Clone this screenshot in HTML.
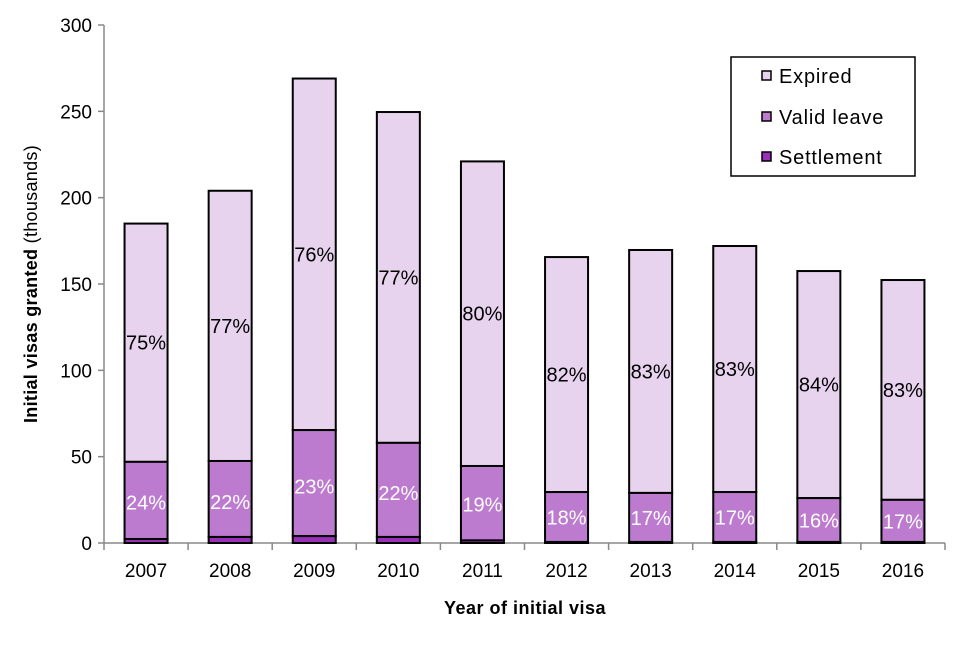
<!DOCTYPE html>
<html><head><meta charset="utf-8"><style>
body{margin:0;background:#fff;font-family:"Liberation Sans",Arial,sans-serif}
svg text{font-family:"Liberation Sans",Arial,sans-serif}
</style></head><body>
<svg id="c" width="960" height="640" xmlns="http://www.w3.org/2000/svg"></svg>
<script>
const categories=["2007","2008","2009","2010","2011","2012","2013","2014","2015","2016"];
const settlement=[2.3,3.5,4,3.5,1.5,0.6,0.6,0.6,0.6,0.6];
const validLeave=[44.7,44,61.4,54.5,43.1,28.9,28.4,28.9,25.4,24.4];
const expired=[138,156.5,203.6,191.6,176.4,136.1,140.7,142.5,131.5,127.3];
const expiredLabels=["75%","77%","76%","77%","80%","82%","83%","83%","84%","83%"];
const validLabels=["24%","22%","23%","22%","19%","18%","17%","17%","16%","17%"];
const yTicks=[0,50,100,150,200,250,300];
const NS="http://www.w3.org/2000/svg",svg=document.getElementById('c');
const x0=104,x1=945,y0=543,y1=25,yMax=300;
const cw=(x1-x0)/categories.length,bw=43;
const y=v=>y0-v/yMax*(y0-y1);
function el(t,a,txt){const e=document.createElementNS(NS,t);for(const k in a)e.setAttribute(k,a[k]);if(txt!==undefined)e.textContent=txt;svg.appendChild(e);return e;}
let e;
e=el('line',{x1:x0,y1:y1,x2:x0,y2:y0,stroke:'#888','stroke-width':1.5});


e=el('line',{x1:x0,y1:y0,x2:x1,y2:y0,stroke:'#888','stroke-width':1.5});


yTicks.forEach(t=>{
 el('line',{x1:x0-6,y1:y(t),x2:x0,y2:y(t),stroke:'#888','stroke-width':1.5});
 e=el('text',{x:x0-12,y:y(t)+7,'text-anchor':'end','font-size':19,fill:'#000'},t);
 
 
});
for(let i=0;i<=categories.length;i++){el('line',{x1:x0+i*cw,y1:y0,x2:x0+i*cw,y2:y0+7,stroke:'#888','stroke-width':1.5});}
categories.forEach((c,i)=>{
 const cx=x0+cw*(i+0.5),bx=cx-bw/2;
 const s=settlement[i],v=validLeave[i],ex=expired[i];
 e=el('rect',{x:bx,y:y(s+v+ex),width:bw,height:y(s+v)-y(s+v+ex),fill:'#e8d3ef',stroke:'#000','stroke-width':2});
 
 
 e=el('rect',{x:bx,y:y(s+v),width:bw,height:y(s)-y(s+v),fill:'#bd7bcf',stroke:'#000','stroke-width':2});
 
 
 e=el('rect',{x:bx,y:y(s),width:bw,height:y0-y(s),fill:'#9a2fb8',stroke:'#000','stroke-width':2});
 
 
 e=el('text',{x:cx,y:(y(s+v+ex)+y(s+v))/2+7,'text-anchor':'middle','font-size':20,fill:'#000'},expiredLabels[i]);
 
 
 e=el('text',{x:cx,y:(y(s+v)+y0)/2+7,'text-anchor':'middle','font-size':20,fill:'#fff'},validLabels[i]);
 
 
 e=el('text',{x:cx,y:y0+34,'text-anchor':'middle','font-size':19,fill:'#000'},c);
 
 
});
e=el('text',{x:525,y:614,'text-anchor':'middle','font-size':18,'font-weight':'bold',fill:'#000','letter-spacing':0.5},'Year of initial  visa');


e=el('text',{x:0,y:0,'text-anchor':'middle','font-size':18,fill:'#000','letter-spacing':0.3,transform:'translate(37,284) rotate(-90)'});


e.innerHTML='<tspan font-weight="bold">Initial visas granted</tspan> (thousands)';
e=el('rect',{x:731,y:57,width:184,height:119,fill:'#fff',stroke:'#000','stroke-width':1.5});


[["Expired","#e8d3ef",76],["Valid leave","#bd7bcf",117],["Settlement","#9a2fb8",157]].forEach(r=>{
 e=el('rect',{x:762,y:r[2]-5,width:9,height:9,fill:r[1],stroke:'#000','stroke-width':1.5});
 
 
 e=el('text',{x:779,y:r[2]+7,'font-size':20,fill:'#000','letter-spacing':0.8},r[0]);
 
 
});
</script>
</body></html>
